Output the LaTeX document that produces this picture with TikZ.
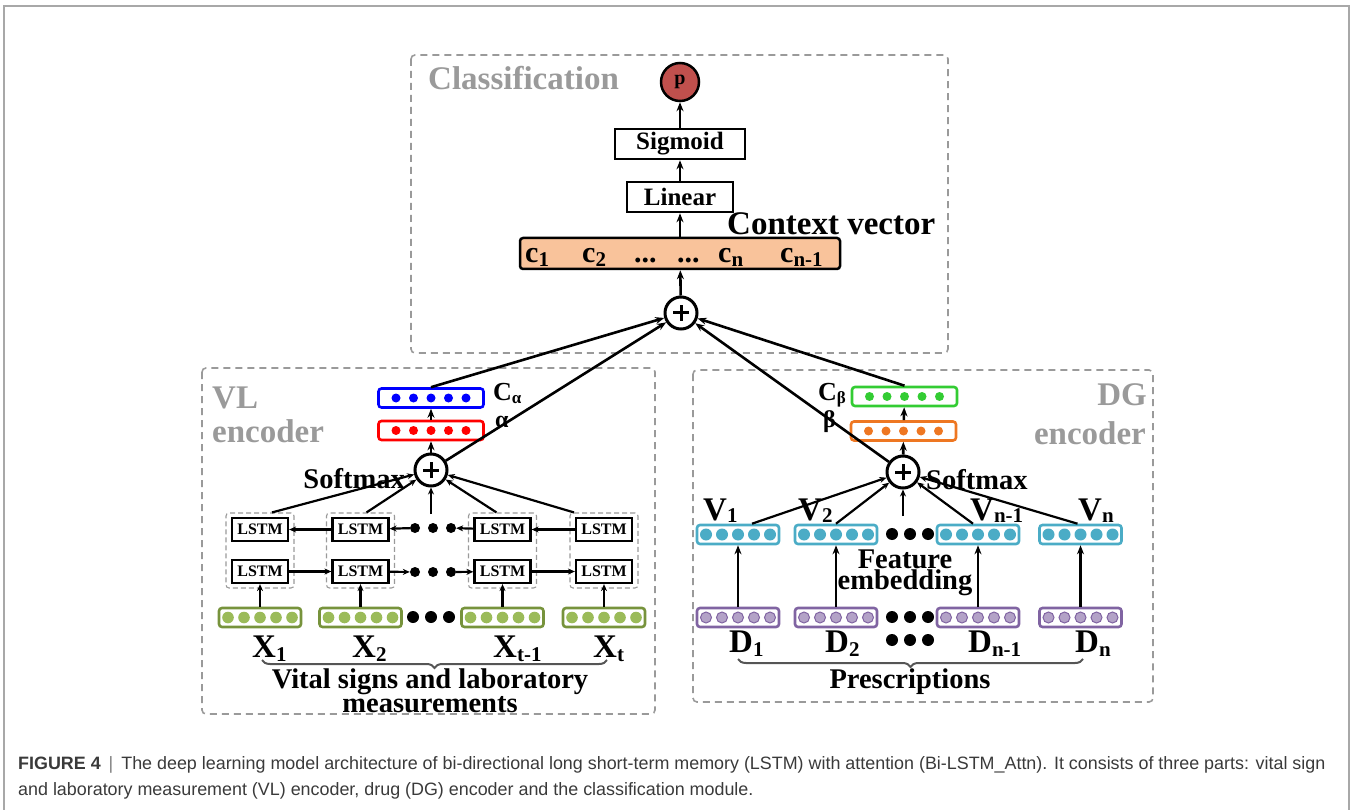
\documentclass[tikz,border=0pt]{standalone}
\usepackage{fontspec}
\setmainfont{Liberation Serif}
\newfontfamily\capfont{Liberation Sans}
\usetikzlibrary{arrows.meta,decorations.pathreplacing}

\definecolor{framegray}{HTML}{A8A8A8}
\definecolor{grpgray}{HTML}{9A9A9A}
\definecolor{bracegray}{HTML}{555555}
\definecolor{ctxpeach}{HTML}{F9C39B}
\definecolor{pred}{HTML}{C0504D}
\definecolor{vlgreen}{HTML}{77933C}
\definecolor{vldot}{HTML}{9BBB59}
\definecolor{cbgreen}{HTML}{33CC33}
\definecolor{borange}{HTML}{EE7722}
\definecolor{dgcyan}{HTML}{4BACC6}
\definecolor{dgpurple}{HTML}{8064A2}
\definecolor{dgpdot}{HTML}{B3A2C7}
\definecolor{capgray}{HTML}{3A3A3A}

\newcommand\fs[1]{\fontsize{#1}{#1}\selectfont}
\newcommand\lsub[1]{\raisebox{-4pt}{\fs{21}#1}}

\tikzset{
  grp/.style={draw=grpgray, line width=1.6pt, dash pattern=on 7pt off 5pt, rounded corners=4pt},
  cell/.style={draw=grpgray, line width=1.1pt, dash pattern=on 5pt off 3pt, rounded corners=3pt,
    minimum width=68pt, minimum height=75pt, inner sep=0pt},
  lstm/.style={draw, line width=2.2pt, minimum width=56pt, minimum height=23pt, inner sep=0pt,
    font=\fs{16}\bfseries},
  blk/.style={draw, line width=2.6pt, inner sep=0pt, font=\fs{25}\bfseries},
  vec/.style={draw=#1, rounded corners=3pt, line width=2.6pt, minimum width=105pt,
    minimum height=19pt, inner sep=0pt},
  emb/.style={draw=#1, rounded corners=3pt, line width=2.6pt, minimum width=82pt,
    minimum height=19pt, inner sep=0pt},
  oplus/.style={circle, draw, line width=3pt, minimum size=32pt, inner sep=0pt},
  bigdot/.style={circle, fill, minimum size=11pt, inner sep=0pt},
  lbl/.style={inner sep=0pt, font=\fs{33}\bfseries},
  mlbl/.style={inner sep=0pt, font=\fs{28.5}\bfseries},
  twoline/.style={inner sep=0pt, align=center, font=\fontsize{28.5}{#1}\selectfont\bfseries},
  glbl/.style={inner sep=0pt, text=grpgray, font=\fs{33}\bfseries},
  conn/.style={line width=2.6pt, -{Stealth[length=9pt,width=7pt]}},
  lconn/.style={line width=2.2pt, -{Stealth[length=7pt,width=6pt]}},
  brc/.style={draw=bracegray, line width=2pt, decorate, decoration={brace, mirror, amplitude=8pt}},
}

\begin{document}
\begin{tikzpicture}[x=1pt,y=-1pt]
  \useasboundingbox (0,0) rectangle (1352,810);
  \draw[framegray, line width=1.5pt] (4,810) -- (4,6) -- (1349,6) -- (1349,810);

  % the three parts
  \draw[grp] (411,55) rectangle (948,353);
  \draw[grp] (202,368) rectangle (655,714);
  \draw[grp] (693,370) rectangle (1153,702);
  \node[glbl, anchor=base west] (clsname) at (428,90) {Classification};
  \node[glbl, anchor=base west] (vlname) at (212,408) {VL};
  \node[glbl, anchor=base west] (vlenc) at (212,442) {encoder};
  \node[glbl, anchor=base east] (dgname) at (1147,405) {DG};
  \node[glbl, anchor=base east] (dgenc) at (1146,444) {encoder};

  % classification
  \node[circle, draw, fill=pred, line width=2.5pt, minimum size=38pt, inner sep=0pt,
    font=\fs{20}\bfseries] (p) at (680,82) {p};
  \node[blk, minimum width=130pt, minimum height=30pt] (sig) at (680,144) {Sigmoid};
  \node[blk, minimum width=106pt, minimum height=30pt] (lin) at (680,197) {Linear};
  \node[draw, fill=ctxpeach, rounded corners=3pt, line width=2.5pt, minimum width=320pt,
    minimum height=31pt] (cvec) at (680,253.5) {};
  \node[lbl, anchor=base west] (ctxname) at (727,235) {Context vector};
  \foreach \x/\s [count=\i] in {525/1, 582/2, 718/n, 780/n-1}
    \node[inner sep=0pt, anchor=base west, font=\fs{30}\bfseries] (c\i) at (\x,263) {c\lsub{\s}};
  \node[inner sep=0pt, anchor=base west, font=\fs{30}\bfseries] (cdots1) at (634,263) {...};
  \node[inner sep=0pt, anchor=base west, font=\fs{30}\bfseries] (cdots2) at (677,263) {...};
  \node[oplus] (pc) at (681,313) {};

  \draw[conn] (pc) -- (cvec);
  \draw[conn] (cvec) -- (lin);
  \draw[conn] (lin) -- (sig);
  \draw[conn] (sig) -- (p);

  % VL encoder
  \node[vec=blue] (cA) at (431,398) {};
  \node[vec=red] (al) at (431,430.5) {};
  \node[inner sep=0pt, anchor=base west] (cAname) at (493,400)
    {\fs{26}\bfseries C\raisebox{-3pt}{\fs{17}α}};
  \node[inner sep=0pt, anchor=base west, font=\fs{24}\bfseries] (alname) at (495,427) {α};
  \node[oplus] (pv) at (431,470) {};
  \node[mlbl, anchor=base east] (vlsoft) at (405,488) {Softmax};

  \foreach \x [count=\i] in {260, 360.5, 502.5, 604} {
    \node[cell] (g\i) at (\x,550.5) {};
    \node[lstm] (l\i t) at (\x,529.5) {LSTM};
    \node[lstm] (l\i b) at (\x,571.5) {LSTM};
    \node[emb=vlgreen] (xv\i) at (\x,617.5) {};
  }
  \foreach \x [count=\i] in {415, 433, 451} {
    \node[bigdot, minimum size=10pt] (vt\i) at (\x,528) {};
    \node[bigdot, minimum size=10pt] (vb\i) at (\x,572) {};
  }
  \foreach \x [count=\i] in {413, 431, 449}
    \node[bigdot, minimum size=12pt] (vx\i) at (\x,617) {};
  \foreach \x/\s [count=\i] in {252/1, 352/2, 493/t-1, 593/t}
    \node[lbl, anchor=base west] (xl\i) at (\x,657) {X\lsub{\s}};
  \coordinate (vlbl) at (262,660);
  \coordinate (vlbr) at (607,660);
  \draw[brc] (vlbl) -- (vlbr);
  \node[twoline=24pt, anchor=base] (vlin) at (430,712) {Vital signs and laboratory\\measurements};

  \foreach \n/\c in {cA/blue, al/red}
    \foreach \k in {-2,...,2}
      \fill[\c] ([xshift=\k*17.5pt]\n.center) circle (4.5pt);
  \foreach \n in {xv1, xv2, xv3, xv4}
    \foreach \k in {-2,...,2}
      \fill[vldot] ([xshift=\k*16pt]\n.center) circle (5.8pt);

  \draw[conn] (pv) -- (al);
  \draw[conn] (al) -- (cA);
  \draw[conn] (cA.north) -- (pc);
  \draw[conn] (pv) -- (pc);
  \draw[lconn] (l4t) -- (l3t);
  \draw[lconn] (l3t) -- (vt3);
  \draw[lconn] (vt1) -- (l2t);
  \draw[lconn] (l2t) -- (l1t);
  \draw[lconn] (l1b) -- (l2b);
  \draw[lconn] (l2b) -- (vb1);
  \draw[lconn] (vb3) -- (l3b);
  \draw[lconn] (l3b) -- (l4b);
  \foreach \i in {1,...,4}
    \draw[lconn] (xv\i) -- (l\i b);
  \coordinate (vlmid) at (431,514);
  \draw[lconn] ([xshift=12pt]g1.north) -- (pv);
  \draw[lconn] ([xshift=6pt]g2.north) -- (pv);
  \draw[lconn] (vlmid) -- (pv);
  \draw[lconn] ([xshift=-6pt]g3.north) -- (pv);
  \draw[lconn] ([xshift=-30pt]g4.north) -- (pv);

  % DG encoder
  \node[vec=cbgreen] (cB) at (904.5,396.5) {};
  \node[vec=borange] (be) at (903.5,431) {};
  \node[inner sep=0pt, anchor=base west] (cBname) at (818,400)
    {\fs{26}\bfseries C\raisebox{-3pt}{\fs{17}β}};
  \node[inner sep=0pt, anchor=base west, font=\fs{24}\bfseries] (bename) at (823,427) {β};
  \node[oplus] (pd) at (903,472) {};
  \node[mlbl, anchor=base west] (dgsoft) at (926,489) {Softmax};

  \foreach \x/\s/\lx/\dx [count=\i] in {738/1/703/729, 836/2/798/825, 978/n-1/970/968, 1080.5/n/1078/1075} {
    \node[emb=dgcyan] (v\i) at (\x,534.5) {};
    \node[emb=dgpurple] (d\i) at (\x,617.5) {};
    \node[lbl, anchor=base west] (vl\i) at (\lx,520) {V\raisebox{-2pt}{\fs{21}\s}};
    \node[lbl, anchor=base west] (dl\i) at (\dx,652) {D\lsub{\s}};
  }
  \foreach \x [count=\i] in {892, 910, 928} {
    \node[bigdot, minimum size=12pt] (dv\i) at (\x,534) {};
    \node[bigdot, minimum size=12pt] (dd\i) at (\x,617) {};
    \node[bigdot, minimum size=12pt] (dl\i dots) at (\x,640) {};
  }
  \node[twoline=21pt, anchor=base] (feat) at (905,589) {Feature\\embedding};
  \coordinate (dgbl) at (738,659);
  \coordinate (dgbr) at (1083,659);
  \draw[brc] (dgbl) -- (dgbr);
  \node[mlbl, anchor=base] (presc) at (910,688) {Prescriptions};

  \foreach \n/\c in {cB/cbgreen, be/borange}
    \foreach \k in {-2,...,2}
      \fill[\c] ([xshift=\k*17.5pt]\n.center) circle (4.5pt);
  \foreach \n in {v1, v2, v3, v4}
    \foreach \k in {-2,...,2}
      \fill[dgcyan] ([xshift=\k*16pt]\n.center) circle (6pt);
  \foreach \n in {d1, d2, d3, d4}
    \foreach \k in {-2,...,2}
      \filldraw[fill=dgpdot, draw=dgpurple, line width=1pt] ([xshift=\k*16pt]\n.center) circle (5.5pt);

  \foreach \i in {1,...,4}
    \draw[conn] (d\i) -- (v\i);
  \coordinate (dgmid) at (903,516);
  \draw[lconn] ([xshift=14pt]v1.north) -- (pd);
  \draw[lconn] (v2.north) -- (pd);
  \draw[lconn] (dgmid) -- (pd);
  \draw[lconn] ([xshift=-5pt]v3.north) -- (pd);
  \draw[lconn] ([xshift=-3pt]v4.north) -- (pd);
  \draw[conn] (pd) -- (be);
  \draw[conn] (be) -- (cB);
  \draw[conn] (cB.north) -- (pc);
  \draw[conn] (pd) -- (pc);

  % the plus signs
  \foreach \n in {pc, pv, pd}
    \draw[line width=3pt] ([xshift=-8pt]\n.center) -- ([xshift=8pt]\n.center)
      ([yshift=-8pt]\n.center) -- ([yshift=8pt]\n.center);

  % caption
  \node[inner sep=0pt, anchor=base west, text=capgray, font=\capfont\fs{17.9}] (cap1) at (18,769)
    {\textbf{FIGURE 4}\, {\color{gray}|}\, The deep learning model architecture of bi-directional long short-term memory (LSTM) with attention (Bi-LSTM\_Attn). It consists of three parts: vital sign};
  \node[inner sep=0pt, anchor=base west, text=capgray, font=\capfont\fs{17.9}] (cap2) at (18,795)
    {and laboratory measurement (VL) encoder, drug (DG) encoder and the classification module.};
\end{tikzpicture}
\end{document}
